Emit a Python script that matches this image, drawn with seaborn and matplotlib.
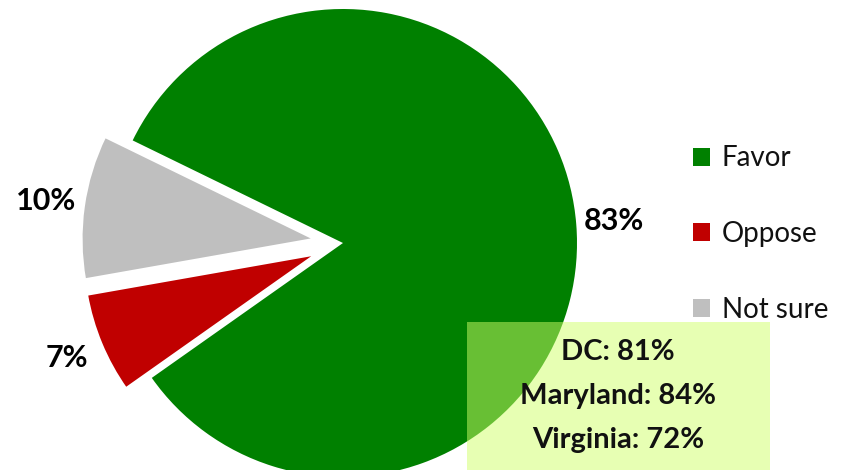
import matplotlib
matplotlib.use("Agg")
import matplotlib.pyplot as plt
import seaborn as sns
from matplotlib.patches import Rectangle

# data
labels = ["Favor", "Oppose", "Not sure"]
values = [83, 7, 10]
colors = ["#008000", "#C00000", "#BFBFBF"]
explode_frac = [0, 0.12, 0.12]
state_names = ["DC", "Maryland", "Virginia"]
state_favor = [81, 84, 72]

sns.set_theme(style="white")
plt.rcParams["font.family"] = ["Lato", "DejaVu Sans"]

fig = plt.figure(figsize=(8.43, 4.70), dpi=100)
ax = fig.add_axes([0, 0, 1, 1])

radius = 234
# matplotlib's explode is in data units, so scale by radius
wedges, _, autotexts = ax.pie(
    values, colors=colors, explode=[e * radius for e in explode_frac],
    startangle=154, counterclock=False,
    center=(343, 227), radius=radius, autopct="%.0f%%", pctdistance=1.16,
    wedgeprops=dict(edgecolor="white", linewidth=2),
    textprops=dict(fontsize=22, fontweight="bold", color="black"),
)
wedges[0].set_edgecolor("none")

ax.set_xlim(0, 843)
ax.set_ylim(0, 470)
ax.set_aspect("equal")
ax.axis("off")

# shaded note box with per-area results
ax.add_patch(Rectangle((467, -10), 303, 158, facecolor="#D0FF68", alpha=0.5,
                       edgecolor="none", zorder=3))
for i, (name, val) in enumerate(zip(state_names, state_favor)):
    ax.text(618, 118 - i * 44, f"{name}: {val}%", ha="center", va="center",
            fontsize=21, fontweight="bold", color="#111111", zorder=4)

leg = ax.legend(wedges, labels, loc="upper left", bbox_to_anchor=(0.792, 0.744),
                frameon=False, fontsize=20, handlelength=0.62, handleheight=0.62,
                handletextpad=0.42, labelspacing=1.79, labelcolor="#111111")
for h in leg.legend_handles:
    h.set_edgecolor("none")

fig.savefig("out.png", dpi=100)
